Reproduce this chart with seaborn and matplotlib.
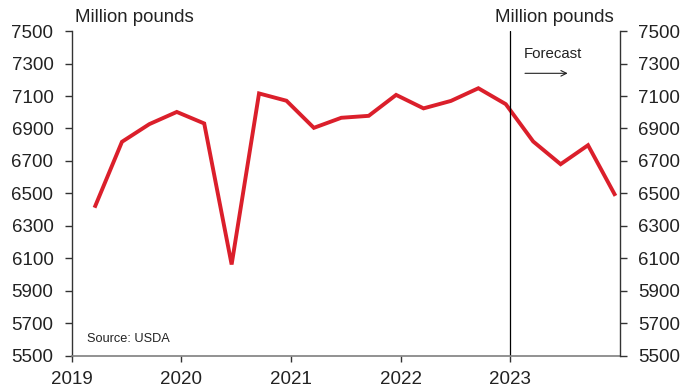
import numpy as np
import pandas as pd
import matplotlib
matplotlib.use("Agg")
import matplotlib.pyplot as plt
import seaborn as sns

# Data (quarterly, million pounds)
years = [2019]*4 + [2020]*4 + [2021]*4 + [2022]*4 + [2023]*4
quarters = [1, 2, 3, 4] * 5
values = [6412, 6818, 6927, 7002, 6931, 6062, 7116, 7071, 6904, 6966,
          6978, 7107, 7024, 7070, 7148, 7050, 6820, 6680, 6797, 6485]
year_ticks = [2019, 2020, 2021, 2022, 2023]
y_ticks = [5500, 5700, 5900, 6100, 6300, 6500, 6700, 6900, 7100, 7300, 7500]
forecast_start = 2023

df = pd.DataFrame({"year": years, "quarter": quarters, "value": values})
# position of each quarter on a decimal-year axis
df["x"] = df["year"] + (df["quarter"] - 1) * 0.25 + 0.21

sns.set_style("white")
plt.rcParams["font.family"] = ["Liberation Sans", "DejaVu Sans"]

fig = plt.figure(figsize=(6.91, 3.89), dpi=100)
ax = fig.add_axes([0.1035, 0.0856, 0.7935, 0.8344])

sns.lineplot(data=df, x="x", y="value", ax=ax, color="#DB1F2B", linewidth=2.8,
             solid_capstyle="butt", solid_joinstyle="miter")

ax.set_xlim(2019, 2024)
ax.set_ylim(5500, 7500)
ax.set_xticks(year_ticks)
ax.set_xticklabels([str(y) for y in year_ticks])
ax.set_yticks(y_ticks)
ax.set_xlabel("")
ax.set_ylabel("")

txt_color = "#222222"
for s in ["top", "right"]:
    ax.spines[s].set_visible(False)
ax.spines["left"].set_color("#333333")
ax.spines["left"].set_linewidth(1.0)
ax.spines["bottom"].set_color("#7f7f7f")
ax.spines["bottom"].set_linewidth(1.2)
ax.tick_params(axis="y", direction="out", length=5, width=1, color="#333333",
               labelsize=13.5, labelcolor=txt_color, pad=8, left=True)
ax.tick_params(axis="x", direction="out", length=4, width=1, color="#333333",
               labelsize=13.5, labelcolor=txt_color, pad=7, bottom=True)

ax2 = ax.twinx()
ax2.set_ylim(5500, 7500)
ax2.set_yticks(y_ticks)
for s in ["top", "left", "bottom"]:
    ax2.spines[s].set_visible(False)
ax2.spines["right"].set_color("#333333")
ax2.spines["right"].set_linewidth(1.0)
ax2.tick_params(axis="y", direction="out", length=5, width=1, color="#333333",
                labelsize=13.5, labelcolor=txt_color, pad=8, right=True)

# forecast divider
ax.axvline(forecast_start, ymin=0, ymax=1, color="black", linewidth=0.9)
ax.text(2023.12, 7360, "Forecast", fontsize=10.8, color=txt_color, ha="left", va="center")
ax.annotate("", xy=(2023.55, 7240), xytext=(2023.11, 7240),
            arrowprops=dict(arrowstyle="->", color="#222222", lw=0.8))

fig.text(75/691, 1-18/389, "Million pounds", fontsize=13.4, color=txt_color, ha="left", va="center")
fig.text(614/691, 1-18/389, "Million pounds", fontsize=13.4, color=txt_color, ha="right", va="center")
ax.text(2019.14, 5600, "Source: USDA", fontsize=9.2, color=txt_color, ha="left", va="center")

fig.savefig("out.png", dpi=100)
